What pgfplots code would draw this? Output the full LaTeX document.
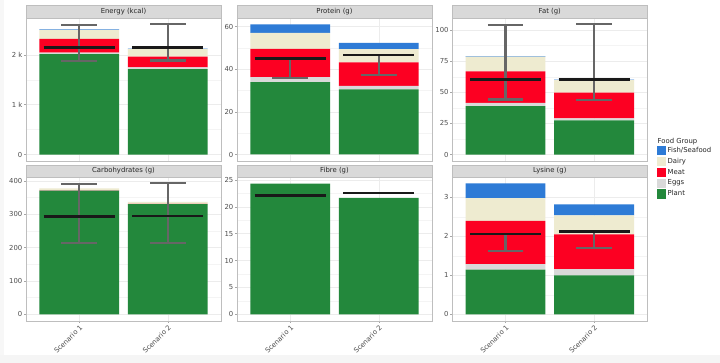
\documentclass[border=0pt]{standalone}
\usepackage{fontspec}
\setmainfont{DejaVu Sans}
\usepackage{pgfplots}
\usepackage{pgfplotstable}
\pgfplotsset{compat=1.18}

\definecolor{plant}{RGB}{35,136,60}
\definecolor{eggs}{RGB}{217,217,217}
\definecolor{meat}{RGB}{252,0,34}
\definecolor{dairy}{RGB}{238,235,208}
\definecolor{fish}{RGB}{46,123,214}
\definecolor{bord}{RGB}{190,190,190}
\definecolor{stripbg}{RGB}{217,217,217}
\definecolor{ticklab}{RGB}{77,77,77}
\definecolor{errgray}{RGB}{102,102,102}
\definecolor{gridc}{RGB}{236,236,236}

\pgfplotstableread{
x plant eggs meat dairy fish
1 2013 30 277 180 10
2 1713 34 220 146 12
}\energy
\pgfplotstableread{
x plant eggs meat dairy fish
1 34.0 2.3 13.3 7.5 4.0
2 30.5 1.7 11.0 6.3 2.9
}\protein
\pgfplotstableread{
x plant eggs meat dairy fish
1 38.9 2.6 25.3 11.7 0.5
2 27.4 1.6 20.6 10.2 0.3
}\fat
\pgfplotstableread{
x plant eggs meat dairy fish
1 371 0.6 0.4 5.5 0
2 330 0.5 0.4 6.3 0
}\carbs
\pgfplotstableread{
x plant eggs meat dairy fish
1 24.3 0 0 0 0
2 21.65 0 0 0 0
}\fibre
\pgfplotstableread{
x plant eggs meat dairy fish
1 1.145 0.145 1.11 0.58 0.38
2 1.0 0.16 0.89 0.49 0.28
}\lysine

\newcommand\fs{\fontsize{6.9}{8}\selectfont}

\pgfplotsset{
  base/.style={scale only axis, width=195bp, xmin=0.4, xmax=2.6},
  panel/.style={base, ybar stacked, bar width=0.9,
    axis line style={bord, line width=0.5bp},
    xtick={1,2}, ytick pos=left, xtick pos=bottom, tick align=outside,
    major tick length=2bp, minor tick length=0pt,
    tick style={color=gray!70, line width=0.4bp},
    ymajorgrids, xmajorgrids, yminorgrids, minor y tick num=1,
    major grid style={gridc, line width=0.5bp},
    minor grid style={gridc!60, line width=0.3bp},
    ticklabel style={font=\fs, text=ticklab},
    yticklabel style={inner sep=1.5bp},
    /pgf/number format/assume math mode=true},
  toprow/.style={height=143bp, xticklabels={}, major x tick style={draw=none}},
  botrow/.style={height=143.5bp, xticklabels={Scenario 1,Scenario 2},
    xticklabel style={rotate=45, anchor=north east, inner sep=1bp}},
  over/.style={base, hide axis},
  errl/.style={line width=2.1bp, color=errgray, line cap=butt, mark=none, forget plot},
  meanl/.style={line width=2.4bp, color=black!90, line cap=butt, mark=none, forget plot},
}

\newcommand\bars[1]{%
  \addplot[fill=plant, draw=none] table[x=x,y=plant]{#1};
  \addplot[fill=eggs, draw=none] table[x=x,y=eggs]{#1};
  \addplot[fill=meat, draw=none] table[x=x,y=meat]{#1};
  \addplot[fill=dairy, draw=none] table[x=x,y=dairy]{#1};
  \addplot[fill=fish, draw=none] table[x=x,y=fish]{#1};
}
% error bar: centre x, cap left, cap right, low, high
\newcommand\eb[5]{%
  \addplot[errl] coordinates {(#1,#4) (#1,#5)};
  \addplot[errl] coordinates {(#2,#4) (#3,#4)};
  \addplot[errl] coordinates {(#2,#5) (#3,#5)};
}
% mean line: left, right, value
\newcommand\mn[3]{%
  \addplot[meanl] coordinates {(#1,#3) (#2,#3)};
}
\newcommand\strip[3]{%
  \draw[fill=stripbg, draw=bord, line width=0.5bp] (#1.north west) rectangle ([yshift=#3]#1.north east);
  \node[font=\fs, text=black!85, inner sep=0pt] at ([yshift=0.5*#3]#1.north) {#2};
}

\begin{document}
\begin{tikzpicture}
\useasboundingbox (0,0) rectangle (720bp,363bp);
\fill[white] (0,0) rectangle (720bp,363bp);
\fill[black!4] (0,0) rectangle (720bp,8bp);
\fill[black!3] (0,8bp) rectangle (4bp,363bp);

% ---------- Energy
\begin{axis}[panel, toprow, name=a1, at={(26bp,202bp)}, anchor=south west,
  ymin=-130, ymax=2740, ytick={0,1000,2000}, yticklabels={0,1 k,2 k}]
\bars{\energy}
\end{axis}
\begin{axis}[over, height=143bp, at={(26bp,202bp)}, anchor=south west, ymin=-130, ymax=2740]
\eb{1}{0.8}{1.2}{1880}{2593}
\eb{2}{1.8}{2.2}{1887}{2613}
\mn{0.6}{1.4}{2147}
\mn{1.6}{2.4}{2147}
\end{axis}
\strip{a1}{Energy (kcal)}{13bp}

% ---------- Protein
\begin{axis}[panel, toprow, name=a2, at={(237bp,202bp)}, anchor=south west,
  ymin=-3.05, ymax=64.05, ytick={0,20,40,60}]
\bars{\protein}
\end{axis}
\begin{axis}[over, height=143bp, at={(237bp,202bp)}, anchor=south west, ymin=-3.05, ymax=64.05]
\eb{1}{0.8}{1.2}{36.0}{45.1}
\eb{2}{1.8}{2.2}{37.3}{46.7}
\mn{0.6}{1.4}{45.1}
\mn{1.6}{2.4}{46.7}
\end{axis}
\strip{a2}{Protein (g)}{13bp}

% ---------- Fat
\begin{axis}[panel, toprow, name=a3, at={(452.3bp,202bp)}, anchor=south west,
  ymin=-5.2, ymax=109.6, ytick={0,25,50,75,100},
  reverse legend, legend cell align=left,
  legend style={at={(1.047,0.105)}, anchor=north west, draw=none, fill=none,
    inner sep=0pt, font=\fs, text=black!85, row sep=1.6bp,
    nodes={inner ysep=0pt, inner xsep=1.8bp}},
  legend image code/.code={\fill[#1] (0bp,-4.6bp) rectangle (9.2bp,4.6bp);}]
\bars{\fat}
\legend{Plant,Eggs,Meat,Dairy,Fish/Seafood}
\end{axis}
\begin{axis}[over, height=143bp, at={(452.3bp,202bp)}, anchor=south west, ymin=-5.2, ymax=109.6]
\eb{1}{0.8}{1.2}{44.2}{103.8}
\eb{2}{1.8}{2.2}{43.7}{104.8}
\mn{0.6}{1.4}{60.3}
\mn{1.6}{2.4}{60.3}
\end{axis}
\strip{a3}{Fat (g)}{13bp}
\node[font=\fs, text=black!85, anchor=west, inner sep=0pt] at (657.5bp,221bp) {Food Group};

% ---------- Carbohydrates
\begin{axis}[panel, botrow, name=b1, at={(26bp,42.2bp)}, anchor=south west,
  ymin=-19.6, ymax=410.6, ytick={0,100,200,300,400}]
\bars{\carbs}
\end{axis}
\begin{axis}[over, height=143.5bp, at={(26bp,42.2bp)}, anchor=south west, ymin=-19.6, ymax=410.6]
\eb{1}{0.8}{1.2}{213}{391}
\eb{2}{1.8}{2.2}{213}{393}
\mn{0.6}{1.4}{292.8}
\mn{1.6}{2.4}{295}
\end{axis}
\strip{b1}{Carbohydrates (g)}{12.5bp}

% ---------- Fibre
\begin{axis}[panel, botrow, name=b2, at={(237bp,42.2bp)}, anchor=south west,
  ymin=-1.215, ymax=25.5, ytick={0,5,10,15,20,25}]
\bars{\fibre}
\end{axis}
\begin{axis}[over, height=143.5bp, at={(237bp,42.2bp)}, anchor=south west, ymin=-1.215, ymax=25.5]
\mn{0.6}{1.4}{22.1}
\mn{1.6}{2.4}{22.6}
\end{axis}
\strip{b2}{Fibre (g)}{12.5bp}

% ---------- Lysine
\begin{axis}[panel, botrow, name=b3, at={(452.3bp,42.2bp)}, anchor=south west,
  ymin=-0.1675, ymax=3.517, ytick={0,1,2,3}]
\bars{\lysine}
\end{axis}
\begin{axis}[over, height=143.5bp, at={(452.3bp,42.2bp)}, anchor=south west, ymin=-0.1675, ymax=3.517]
\eb{1}{0.8}{1.2}{1.635}{2.063}
\eb{2}{1.8}{2.2}{1.694}{2.125}
\mn{0.6}{1.4}{2.063}
\mn{1.6}{2.4}{2.125}
\end{axis}
\strip{b3}{Lysine (g)}{12.5bp}
\end{tikzpicture}
\end{document}
